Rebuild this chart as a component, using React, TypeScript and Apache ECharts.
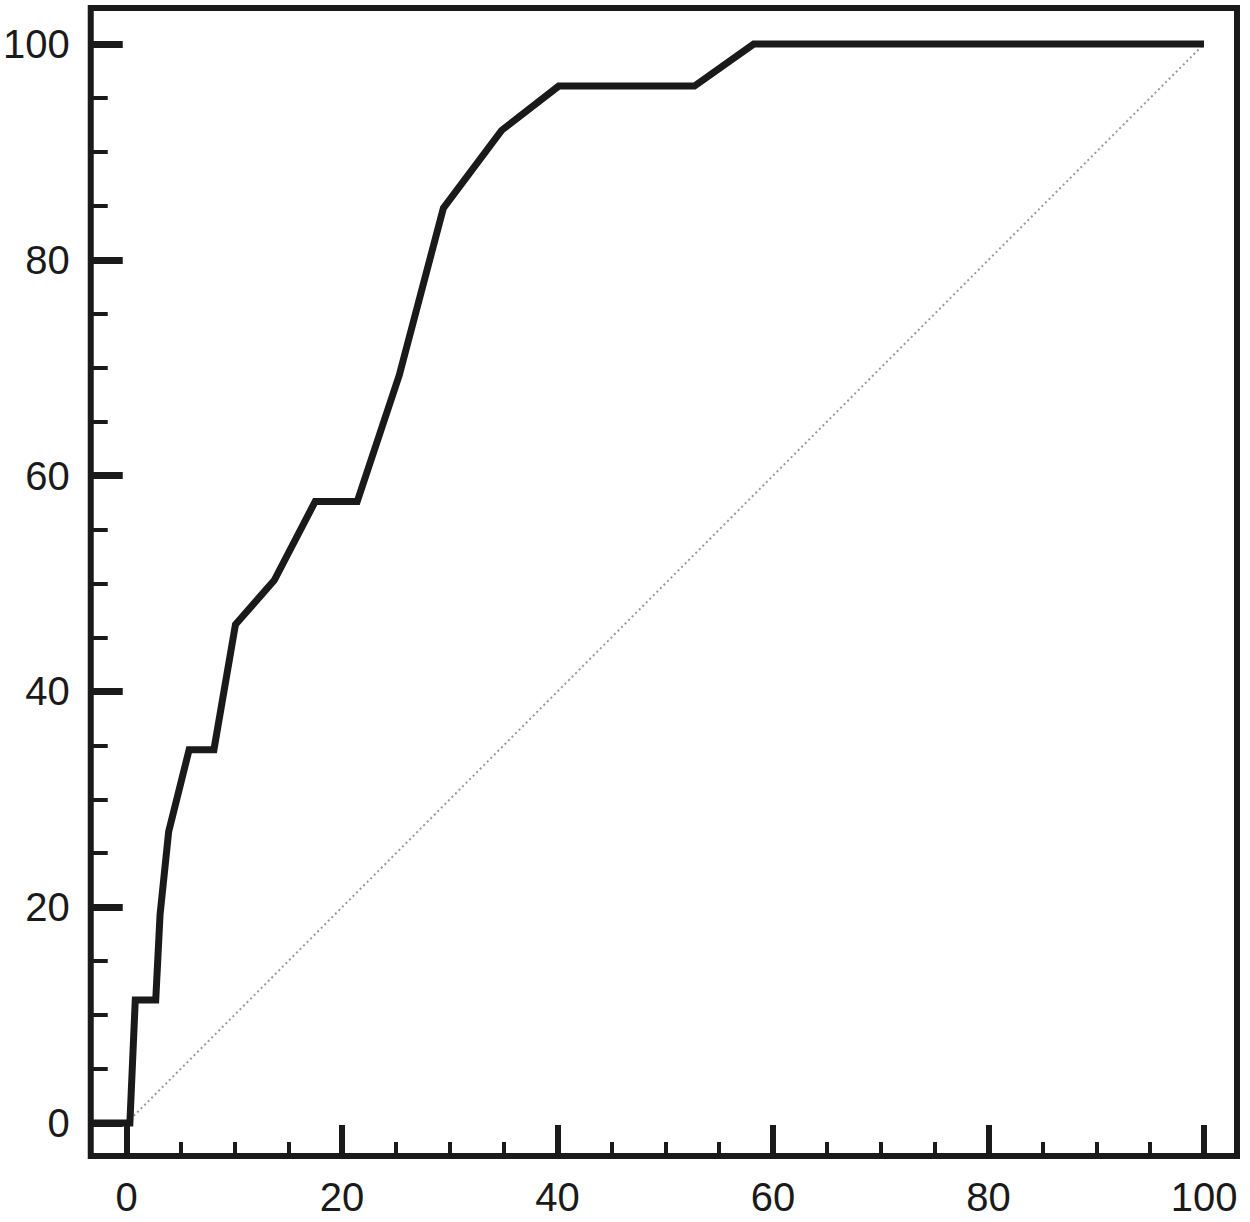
import React, { useEffect, useRef } from "react";
import * as echarts from "echarts";

// ROC curve points: [1 - specificity (%), sensitivity (%)]
const rocX = [-3.33, 0.3, 0.8, 2.7, 3.1, 3.9, 5.8, 8.1, 10.1, 13.7, 17.5, 21.4, 25.3, 29.4, 34.8, 40.1, 52.7, 58.2, 100];
const rocY = [0, 0, 11.4, 11.4, 19.3, 27.0, 34.6, 34.6, 46.2, 50.3, 57.6, 57.6, 69.3, 84.8, 92.0, 96.1, 96.1, 100, 100];
// Reference (chance) diagonal
const diagX = [0, 100];
const diagY = [0, 100];
// Tick values
const majorTicks = [0, 20, 40, 60, 80, 100];
const minorTicks = [5, 10, 15, 25, 30, 35, 45, 50, 55, 65, 70, 75, 85, 90, 95];

const X_MIN = -3.333;
const X_MAX = 103.06;
const Y_MIN = -3.06;
const Y_MAX = 103.34;

const INK = "#1a1a1a";

export default function App() {
  const ref = useRef<HTMLDivElement>(null);
  useEffect(() => {
    document.body.style.margin = "0";
    if (!ref.current) return;
    const chart = echarts.init(ref.current, undefined, { renderer: "svg" });
    const labelStyle = {
      fontFamily: "Liberation Sans, Arial, sans-serif",
      fontSize: 40,
      color: INK,
    };
    const rocData = rocX.map((x, i) => [x, rocY[i]]);
    const diagData = diagX.map((x, i) => [x, diagY[i]]);
    const noLine = { show: false, onZero: false };
    chart.setOption({
      animation: false,
      backgroundColor: "#ffffff",
      grid: {
        left: 88,
        top: 8,
        right: 13,
        bottom: 66,
        show: true,
        borderColor: INK,
        borderWidth: 6,
        backgroundColor: "transparent",
      },
      xAxis: [
        {
          type: "value",
          min: X_MIN,
          max: X_MAX,
          position: "bottom",
          axisLine: noLine,
          splitLine: { show: false },
          axisTick: {
            show: true,
            inside: true,
            length: 31,
            customValues: majorTicks,
            lineStyle: { color: INK, width: 6 },
          },
          axisLabel: { ...labelStyle, margin: 21, customValues: majorTicks },
        },
        {
          type: "value",
          min: X_MIN,
          max: X_MAX,
          position: "bottom",
          axisLine: noLine,
          splitLine: { show: false },
          axisTick: {
            show: true,
            inside: true,
            length: 14,
            customValues: minorTicks,
            lineStyle: { color: INK, width: 4 },
          },
          axisLabel: { show: false },
        },
      ],
      yAxis: [
        {
          type: "value",
          min: Y_MIN,
          max: Y_MAX,
          position: "left",
          axisLine: noLine,
          splitLine: { show: false },
          axisTick: {
            show: true,
            inside: true,
            length: 32,
            customValues: majorTicks,
            lineStyle: { color: INK, width: 7 },
          },
          axisLabel: { ...labelStyle, margin: 21, customValues: majorTicks },
        },
        {
          type: "value",
          min: Y_MIN,
          max: Y_MAX,
          position: "left",
          axisLine: noLine,
          splitLine: { show: false },
          axisTick: {
            show: true,
            inside: true,
            length: 17,
            customValues: minorTicks,
            lineStyle: { color: INK, width: 4 },
          },
          axisLabel: { show: false },
        },
      ],
      series: [
        {
          type: "line",
          data: diagData,
          showSymbol: false,
          lineStyle: { color: "#9a9a9a", width: 2, type: [2, 3] },
          z: 2,
        },
        {
          type: "line",
          data: rocData,
          showSymbol: false,
          lineStyle: { color: INK, width: 7, join: "miter" },
          z: 3,
        },
      ],
    });
    return () => chart.dispose();
  }, []);
  return <div ref={ref} style={{ width: 1250, height: 1222 }} />;
}
